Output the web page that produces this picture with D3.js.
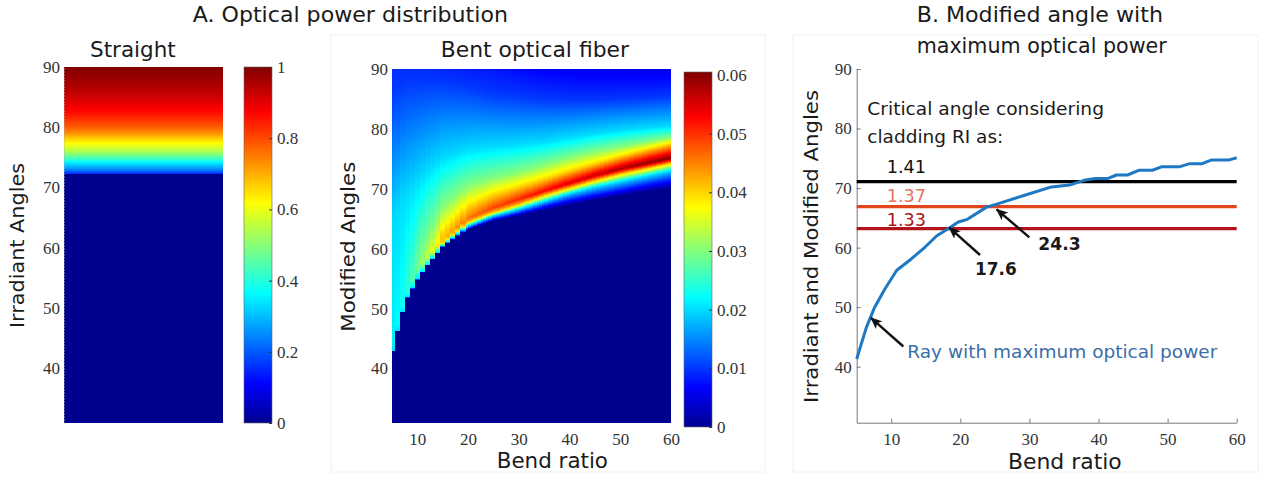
<!DOCTYPE html>
<html>
<head>
<meta charset="utf-8">
<script src="https://cdn.jsdelivr.net/npm/d3@7"></script>
<style>
body { margin: 0; background: #fff; }
svg { display: block; }
</style>
</head>
<body>
<svg width="1261" height="480"></svg>
<script>
// jet colormap corner points (MATLAB jet(64))
const jetStops = [0, 0.111, 0.365, 0.619, 0.873, 1];
const jetColors = ["#00008f", "#0000ff", "#00ffff", "#ffff00", "#ff0000", "#800000"];

// A. straight fiber: normalised power vs irradiant angle
const straightAngles = [30.9, 72.2, 72.25, 73, 74, 75, 76, 77, 78, 79, 80, 82, 84, 86, 88, 90];
const straightPower  = [0, 0, 0.15, 0.25, 0.34, 0.45, 0.54, 0.6, 0.66, 0.73, 0.78, 0.85, 0.9, 0.94, 0.97, 1];
const straightTicks  = [0, 0.2, 0.4, 0.6, 0.8, 1];

// A. bent fiber: angle at which each power level is reached, per bend ratio
const bendKnots = [5, 6, 7, 8, 10, 12, 15, 20, 25, 30, 35, 40, 45, 50, 55, 60];
const edgeAngle = [41.8, 46.2, 49.4, 51.8, 54.8, 57.2, 60.3, 63.2, 64.6, 65.5, 66.4, 67.3, 68.1, 68.8, 69.5, 70.1];
const lower01   = [41.85, 46.25, 49.45, 51.85, 54.85, 57.25, 60.35, 63.4, 65.0, 66.0, 67.2, 68.3, 69.2, 70.0, 70.9, 71.7];
const lower02   = [41.9, 46.3, 49.5, 51.9, 54.9, 57.3, 60.4, 63.8, 65.5, 66.6, 67.9, 69.2, 70.3, 71.2, 72.1, 73.0];
const lower04   = [43.0, 47.5, 50.5, 53.0, 56.5, 58.5, 61.0, 64.4, 66.0, 67.3, 68.8, 70.1, 71.3, 72.4, 73.3, 74.2];
const peakAngle = [43.0, 47.5, 50.5, 53.0, 56.5, 58.5, 61.5, 65.0, 66.8, 68.2, 69.6, 70.9, 72.2, 73.3, 74.2, 75.1];
const peakPower = [0.021, 0.022, 0.023, 0.025, 0.029, 0.034, 0.041, 0.046, 0.049, 0.051, 0.053, 0.055, 0.0565, 0.058, 0.0595, 0.0605];
const upper04   = [43.0, 47.5, 50.5, 53.0, 56.5, 58.5, 62.5, 67.0, 69.0, 70.3, 71.6, 73.0, 74.2, 75.4, 76.5, 77.5];
const upper03   = [43.0, 47.5, 50.5, 53.0, 56.5, 61.5, 67.0, 70.5, 71.8, 72.8, 74.0, 75.2, 76.2, 77.0, 77.8, 78.6];
const upper02   = [64.0, 66.0, 68.0, 69.0, 71.0, 73.0, 75.0, 76.5, 77.0, 77.3, 77.8, 78.5, 79.2, 79.7, 80.1, 80.4];
const upper01   = [86, 87, 87.5, 88, 88, 88, 88, 87, 86, 85.5, 85, 84.8, 84.8, 85, 85.2, 85.5];
const topPower  = [0.0095, 0.0095, 0.0095, 0.0095, 0.0095, 0.0095, 0.009, 0.0085, 0.008, 0.0072, 0.0065, 0.006, 0.0058, 0.0056, 0.0055, 0.0055];
const bentTicks = [0, 0.01, 0.02, 0.03, 0.04, 0.05, 0.06];

// B. ray with maximum optical power
const rayBend  = [5, 6.4, 7.6, 9.1, 10.8, 12.9, 14.9, 16.6, 18.3, 19.7, 20.9, 23.8, 25.5, 29.3, 33.2, 35.8, 37.9, 39.5, 41.3, 42.6, 44.2, 45.9, 47.8, 49.2, 51.8, 53.2, 55.0, 56.3, 58.8, 60];
const rayAngle = [41.3, 46.6, 50.0, 53.1, 56.2, 58.1, 60.1, 62.0, 63.2, 64.3, 64.7, 66.8, 67.4, 68.8, 70.2, 70.5, 71.3, 71.6, 71.6, 72.2, 72.2, 73.0, 73.0, 73.6, 73.6, 74.1, 74.1, 74.7, 74.7, 75.1];
const criticalAngle = [71.1, 66.9, 63.2];
const claddingRI    = ["1.41", "1.37", "1.33"];
const lineColors    = ["#000000", "#e2441c", "#b3141c"];
const riColors      = ["#111111", "#e8735f", "#a8161c"];

const angleTicks = [40, 50, 60, 70, 80, 90];
const bendTicks  = [10, 20, 30, 40, 50, 60];

const SANS = "'DejaVu Sans', sans-serif";
const SERIF = "'Liberation Serif', 'Times New Roman', serif";
const svg = d3.select("svg");

const jetScale = d3.scaleLinear().domain(jetStops).range(jetColors).clamp(true);

function label(x, y, str, size, width) {
    const t = svg.append("text")
        .attr("x", x).attr("y", y)
        .attr("font-family", SANS)
        .attr("font-size", size)
        .attr("fill", "#1a1a1a")
        .text(str);
    if (width) t.attr("textLength", width).attr("lengthAdjust", "spacingAndGlyphs");
    return t;
}

function vlabel(x, yStart, str, size, width) {
    svg.append("text")
        .attr("transform", `translate(${x},${yStart}) rotate(-90)`)
        .attr("font-family", SANS)
        .attr("font-size", size)
        .attr("fill", "#1a1a1a")
        .attr("textLength", width)
        .attr("lengthAdjust", "spacingAndGlyphs")
        .text(str);
}

function styleAxis(g) {
    g.selectAll("text").attr("font-family", SERIF).attr("font-size", 17).attr("fill", "#333");
}

function colorbar(id, x, y0, y1, domain, ticks) {
    const grad = svg.append("defs").append("linearGradient")
        .attr("id", id).attr("x1", 0).attr("y1", 1).attr("x2", 0).attr("y2", 0);
    grad.selectAll("stop").data(jetStops).enter().append("stop")
        .attr("offset", d => d)
        .attr("stop-color", (d, i) => jetColors[i]);
    svg.append("rect")
        .attr("x", x).attr("y", y0).attr("width", 28).attr("height", y1 - y0)
        .attr("fill", `url(#${id})`)
        .attr("stroke", "#666").attr("stroke-width", 0.6);
    const sc = d3.scaleLinear().domain(domain).range([y1, y0]);
    const g = svg.append("g")
        .attr("transform", `translate(${x + 28},0)`)
        .call(d3.axisRight(sc).tickValues(ticks).tickFormat(d => String(d)).tickSizeInner(-3).tickSizeOuter(0).tickPadding(5));
    g.select(".domain").remove();
    g.selectAll(".tick line").attr("stroke", "#333");
    styleAxis(g);
}

// faint panel frames
svg.append("rect").attr("x", 331).attr("y", 35).attr("width", 434).attr("height", 437)
    .attr("fill", "none").attr("stroke", "#f0f0f0");
svg.append("rect").attr("x", 793).attr("y", 35).attr("width", 465).attr("height", 437)
    .attr("fill", "none").attr("stroke", "#f0f0f0");

// ---------- Straight ----------
const yStraight = d3.scaleLinear().domain([30.9, 90]).range([423, 67]);
const straightProfile = d3.scaleLinear().domain(straightAngles).range(straightPower).clamp(true);
const straightRows = d3.range(Math.round(yStraight(90)), Math.round(yStraight(30.9)));
svg.append("g").attr("shape-rendering", "crispEdges")
    .selectAll("rect").data(straightRows).enter().append("rect")
    .attr("x", 64).attr("width", 159)
    .attr("y", d => d).attr("height", 1)
    .attr("fill", d => jetScale(straightProfile(yStraight.invert(d + 0.5))));

const gys = svg.append("g").attr("transform", "translate(64,0)")
    .call(d3.axisLeft(yStraight).tickValues(angleTicks).tickSize(0).tickPadding(4));
gys.select(".domain").attr("stroke", "#aaa").attr("stroke-dasharray", "1,2");
styleAxis(gys);
colorbar("cbStraight", 244, 67, 423, [0, 1], straightTicks);

// ---------- Bent optical fiber ----------
const xBent = d3.scaleLinear().domain([5, 60]).range([392, 671]);
const yBent = d3.scaleLinear().domain([30.9, 90]).range([423, 69]);
const powerBent = d3.scaleLinear().domain([0, 0.0605]).range([0, 1]);
svg.append("rect").attr("x", 392).attr("y", 69).attr("width", 279).attr("height", 354)
    .attr("fill", jetScale(0));

const contours = [
    [edgeAngle, 0], [lower01, 0.01], [lower02, 0.02], [lower04, 0.04],
    [peakAngle, null], [upper04, 0.04], [upper03, 0.03], [upper02, 0.02], [upper01, 0.01]
];
const atBend = arr => d3.scaleLinear().domain(bendKnots).range(arr);
const peakAt = atBend(peakPower);
const topAt = atBend(topPower);

// column edges: unit steps where the edge climbs fast, half steps after
const colEdges = [5].concat(d3.range(5.5, 20, 1), d3.range(20, 60.01, 0.5));
const cells = [];
for (let c = 0; c < colEdges.length - 1; c++) {
    const b0 = colEdges[c], b1 = colEdges[c + 1];
    const b = (b0 + b1) / 2;
    const pv = peakAt(b);
    const pts = [];
    contours.forEach(([arr, level]) => {
        if (level !== null && level > 0 && level >= pv) return;
        pts.push([atBend(arr)(b), level === null ? pv : level]);
    });
    pts.sort((p, q) => p[0] - q[0]);
    for (let i = 1; i < pts.length; i++) {
        if (pts[i][0] <= pts[i - 1][0]) pts[i][0] = pts[i - 1][0] + 0.01;
    }
    pts.push([90, topAt(b)]);
    const profile = d3.scaleLinear().domain(pts.map(p => p[0])).range(pts.map(p => p[1]));
    const edge = pts[0][0];
    const px0 = Math.round(xBent(b0)), px1 = Math.round(xBent(b1));
    const yStart = Math.round(yBent(90)), yEnd = Math.round(yBent(edge)) + 1;
    for (let py = yStart; py < yEnd; py++) {
        const a = yBent.invert(py + 0.5);
        if (a < edge) continue;
        cells.push({x: px0, w: px1 - px0, y: py, v: profile(a)});
    }
}
svg.append("g").attr("shape-rendering", "crispEdges")
    .selectAll("rect").data(cells).enter().append("rect")
    .attr("x", d => d.x).attr("width", d => d.w)
    .attr("y", d => d.y).attr("height", 1)
    .attr("fill", d => jetScale(powerBent(d.v)));

const gyb = svg.append("g").attr("transform", "translate(392,0)")
    .call(d3.axisLeft(yBent).tickValues(angleTicks).tickSize(0).tickPadding(4));
gyb.select(".domain").remove();
styleAxis(gyb);
const gxb = svg.append("g").attr("transform", "translate(0,423)")
    .call(d3.axisBottom(xBent).tickValues(bendTicks).tickSize(0).tickPadding(10));
gxb.select(".domain").remove();
styleAxis(gxb);
colorbar("cbBent", 684, 72, 427, [0, 0.0605], bentTicks);

// ---------- B. Modified angle with maximum optical power ----------
const xB = d3.scaleLinear().domain([5, 60]).range([856.7, 1236.7]);
const yB = d3.scaleLinear().domain([30.6, 90]).range([422.7, 69]);

const gyB = svg.append("g").attr("transform", "translate(856.7,0)")
    .call(d3.axisLeft(yB).tickValues(angleTicks).tickSizeInner(-4).tickSizeOuter(0).tickPadding(5));
const gxB = svg.append("g").attr("transform", "translate(0,422.7)")
    .call(d3.axisBottom(xB).tickValues(bendTicks).tickSizeInner(-4).tickSizeOuter(0).tickPadding(10));
[gyB, gxB].forEach(g => {
    g.select(".domain").attr("stroke", "#777");
    g.selectAll(".tick line").attr("stroke", "#777");
    styleAxis(g);
});

svg.append("g").selectAll("line").data(criticalAngle).enter().append("line")
    .attr("x1", xB(5)).attr("x2", xB(60))
    .attr("y1", d => yB(d)).attr("y2", d => yB(d))
    .attr("stroke", (d, i) => lineColors[i])
    .attr("stroke-width", 3.2);

const rayLine = d3.line().x(d => xB(d[0])).y(d => yB(d[1]));
svg.append("path")
    .datum(rayBend.map((b, i) => [b, rayAngle[i]]))
    .attr("d", rayLine)
    .attr("fill", "none")
    .attr("stroke", "#1f78c4")
    .attr("stroke-width", 3)
    .attr("stroke-linejoin", "round");

// annotations
svg.append("defs").append("marker")
    .attr("id", "head").attr("viewBox", "0 0 12 10")
    .attr("refX", 11).attr("refY", 5)
    .attr("markerWidth", 12).attr("markerHeight", 10)
    .attr("markerUnits", "userSpaceOnUse")
    .attr("orient", "auto")
    .append("path").attr("d", "M0,0 L12,5 L0,10 L3,5 Z").attr("fill", "#111");

const arrows = [
    [[11.75, 43.4], [7.07, 48.2]],
    [[22.85, 58.76], [18.4, 63.35]],
    [[29.98, 61.73], [25.26, 66.44]]
];
svg.append("g").selectAll("line").data(arrows).enter().append("line")
    .attr("x1", d => xB(d[0][0])).attr("y1", d => yB(d[0][1]))
    .attr("x2", d => xB(d[1][0])).attr("y2", d => yB(d[1][1]))
    .attr("stroke", "#111").attr("stroke-width", 2.4)
    .attr("marker-end", "url(#head)");

label(867.3, 115, "Critical angle considering", 18, 236.7);
label(867.3, 143.3, "cladding RI as:", 18, 136);
claddingRI.forEach((ri, i) => {
    label(886.7, [173.3, 201.7, 225.7][i], ri, 18, 39.3).attr("fill", riColors[i]);
});
label(975, 275, "17.6", 18, 41.7).attr("font-weight", "bold");
label(1038.3, 250, "24.3", 18, 42.4).attr("font-weight", "bold");
label(907.3, 358.3, "Ray with maximum optical power", 18, 310).attr("fill", "#3a6ea8");

// titles and axis labels
label(192.7, 21.5, "A. Optical power distribution", 21, 315.3);
label(90, 57.3, "Straight", 21, 85.7);
label(440.7, 56.7, "Bent optical fiber", 21, 188.3);
label(916.7, 21.7, "B. Modified angle with", 21, 246.3);
label(916.7, 53.3, "maximum optical power", 21, 250);
label(496.7, 468, "Bend ratio", 21, 111.3);
label(1008, 469, "Bend ratio", 21, 113.7);
vlabel(24, 328, "Irradiant Angles", 20, 165);
vlabel(355, 331.7, "Modified Angles", 20, 170);
vlabel(818, 403, "Irradiant and Modified Angles", 20, 313);
</script>
</body>
</html>
